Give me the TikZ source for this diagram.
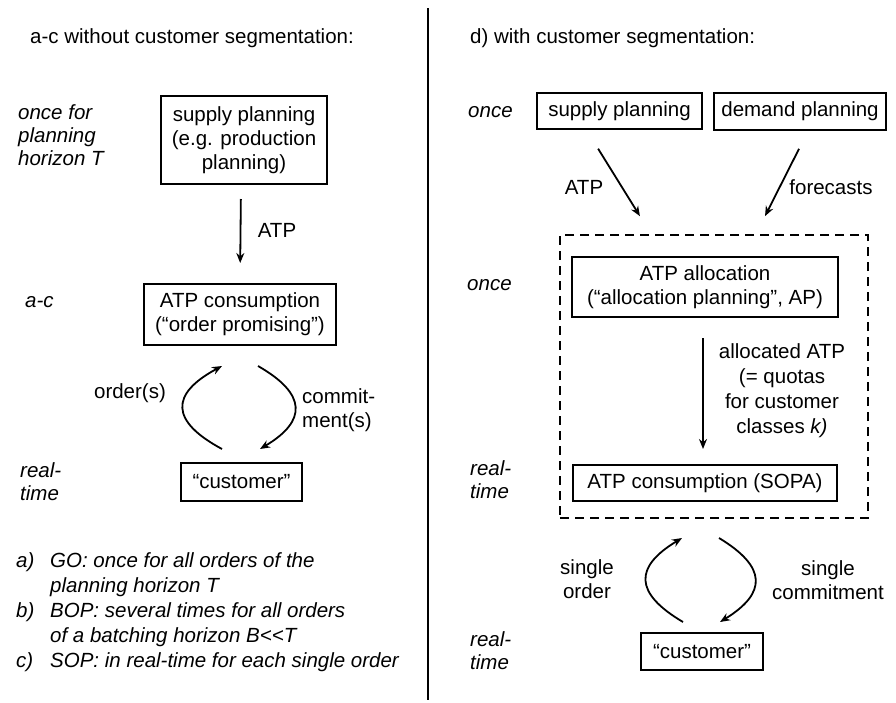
\documentclass[tikz,border=0pt]{standalone}
\usepackage{fontspec}
\setmainfont{Liberation Sans}
\usetikzlibrary{arrows.meta}

\begin{document}
\begin{tikzpicture}[x=1pt, y=-1pt, every node/.style={font=\fontsize{20.5}{24}\selectfont, inner sep=0pt},
box/.style={draw, line width=2pt, align=center},
lbl/.style={align=left, anchor=west, font=\itshape\fontsize{20.5}{23}\selectfont},
arr/.style={line width=1.8pt, -{Stealth[length=10pt,width=8pt]}}]
\useasboundingbox (0,0) rectangle (896,702);
\draw[line width=1.8pt] (428,8) -- (428,700);
\node[anchor=west] (titL) at (30,38) {a-c without customer segmentation:};
\node[anchor=west] (titR) at (470,38) {d) with customer segmentation:};
% left side
\node[box, minimum width=166, minimum height=88] (supL) at (244,140) {supply planning\\(e.g. production\\planning)};
\node[box, minimum width=192, minimum height=61] (consL) at (240,314.5) {ATP consumption\\(“order promising”)};
\node[box, minimum width=121, minimum height=38] (custL) at (241.5,482) {“customer”};
\node[lbl] (onceL) at (18,135) {once for\\planning\\horizon T};
\node[lbl] (acL) at (25,302) {a-c};
\node[lbl] (rtL) at (20,481.5) {real-\\time};
\draw[arr, shorten <=14pt, shorten >=20pt] ([xshift=-3pt]supL.south) -- (consL.north);
\node (atpL) at (277,230) {ATP};
\draw[arr] ([xshift=-19.5pt,yshift=13pt]custL.north) .. controls +(-52,-28) and +(-52,28) .. ([xshift=-18pt,yshift=-20pt]consL.south);
\draw[arr] ([xshift=18pt,yshift=-20pt]consL.south) .. controls +(49,28) and +(47,-28) .. ([xshift=18.5pt,yshift=13pt]custL.north);
\node (ordL) at (130,393) {order(s)};
\node[align=left, anchor=west] (comL) at (302,410) {commit-\\ment(s)};
\node[lbl, font=\itshape\fontsize{20.5}{25}\selectfont] (notes) at (16,612) {\makebox[34pt][l]{a)}GO: once for all orders of the\\
\makebox[34pt][l]{}planning horizon T\\
\makebox[34pt][l]{b)}BOP: several times for all orders\\
\makebox[34pt][l]{}of a batching horizon B{<}{<}T\\
\makebox[34pt][l]{c)}SOP: in real-time for each single order};
% right side
\node[box, minimum width=165, minimum height=36] (supR) at (619.5,111) {supply planning};
\node[box, minimum width=172, minimum height=37] (demR) at (800,111.5) {demand planning};
\node[draw, dashed, dash pattern=on 9pt off 6pt, line width=2pt, minimum width=308, minimum height=283] (dashR) at (714,376.5) {};
\node[box, minimum width=266, minimum height=60] (allocR) at (705,287) {ATP allocation\\(“allocation planning”, AP)};
\node[box, minimum width=264, minimum height=36] (sopaR) at (705,483) {ATP consumption (SOPA)};
\node[box, minimum width=122, minimum height=37] (custR) at (702,651.5) {“customer”};
\node[lbl] (onceR) at (468,112) {once};
\node[lbl] (onceR2) at (467,285) {once};
\node[lbl] (rtR) at (470,480) {real-\\time};
\node[lbl] (rtR2) at (470,651) {real-\\time};
\draw[arr, shorten <=22pt, shorten >=21pt] ([xshift=-33pt]supR.south) -- ([xshift=-63pt]dashR.north);
\draw[arr, shorten <=20pt, shorten >=20pt] ([xshift=8pt]demR.south) -- ([xshift=42pt]dashR.north);
\node (atpR) at (584,187) {ATP};
\node (fcR) at (831,187) {forecasts};
\draw[arr, shorten <=20pt, shorten >=15pt] ([xshift=-2pt]allocR.south) -- ([xshift=-2pt]sopaR.north);
\node[align=center, font=\fontsize{20.5}{25}\selectfont] (quota) at (782,391) {allocated ATP\\(= quotas\\for customer\\classes \textit{k)}};
\draw[arr] ([xshift=-19pt,yshift=10pt]custR.north) .. controls +(-49,-29) and +(-48,29) .. ([xshift=-23pt,yshift=-36pt]sopaR.south);
\draw[arr] ([xshift=14pt,yshift=-36pt]sopaR.south) .. controls +(48,29) and +(47,-29) .. ([xshift=18pt,yshift=10pt]custR.north);
\node[align=center] (sordR) at (587,579) {single\\order};
\node[align=center] (scomR) at (828,580) {single\\commitment};
\end{tikzpicture}
\end{document}
